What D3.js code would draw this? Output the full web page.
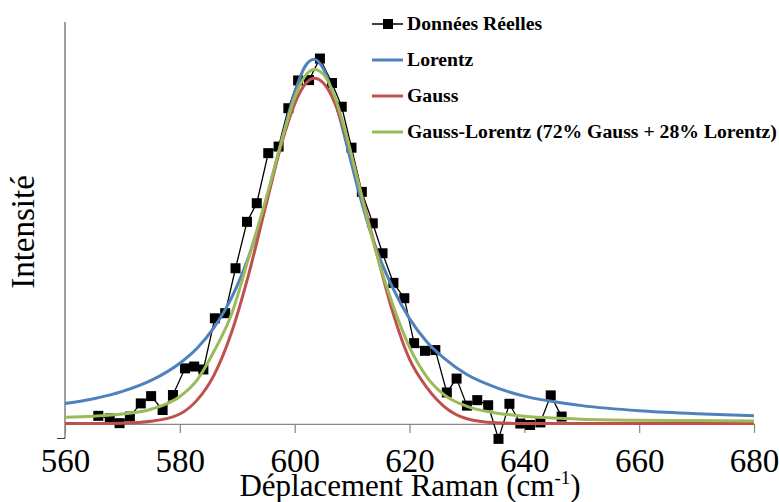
<!DOCTYPE html>
<html>
<head>
<meta charset="utf-8">
<script src="https://cdn.jsdelivr.net/npm/d3@7/dist/d3.min.js"></script>
<style>
  html, body { margin: 0; padding: 0; background: #fff; }
  svg { display: block; }
</style>
</head>
<body>
<svg id="chart" width="779" height="502"></svg>
<script>
// ---- Data ----
const ramanShift = [565.8, 567.8, 569.5, 571.3, 573.2, 575.0, 577.0, 578.8, 580.9, 582.5,
  584.1, 586.1, 587.9, 589.7, 591.7, 593.4, 595.4, 597.2, 598.9, 600.6,
  602.5, 604.4, 606.5, 608.2, 609.9, 611.7, 613.6, 615.3, 617.2, 619.1,
  620.8, 622.7, 624.5, 626.5, 628.2, 630.0, 631.8, 633.7, 635.5, 637.4,
  639.3, 641.0, 642.8, 644.6, 646.5];
const measured = [0.022, 0.015, 0.002, 0.020, 0.056, 0.076, 0.038, 0.079, 0.152, 0.157,
  0.149, 0.289, 0.303, 0.426, 0.553, 0.604, 0.741, 0.759, 0.864, 0.940,
  0.941, 1.000, 0.933, 0.868, 0.756, 0.635, 0.549, 0.467, 0.386, 0.344,
  0.221, 0.200, 0.202, 0.086, 0.124, 0.050, 0.065, 0.051, -0.041, 0.055,
  0.001, -0.003, 0.004, 0.078, 0.020];

const fitShift = [560, 565, 570, 575, 580, 583, 586, 589, 592, 595, 598, 600, 602, 603.4,
  605, 607, 609, 611, 614, 617, 620, 623, 626, 630, 635, 640, 645, 650, 660, 670, 680];
const lorentz = [0.056, 0.069, 0.089, 0.119, 0.166, 0.207, 0.265, 0.345, 0.458, 0.610,
  0.792, 0.907, 0.983, 0.998, 0.972, 0.886, 0.768, 0.645, 0.488, 0.375, 0.288, 0.225,
  0.180, 0.135, 0.100, 0.076, 0.061, 0.050, 0.036, 0.028, 0.022];
const gauss = [0.001, 0.001, 0.002, 0.007, 0.027, 0.065, 0.135, 0.250, 0.410, 0.599,
  0.782, 0.876, 0.933, 0.946, 0.933, 0.878, 0.785, 0.668, 0.485, 0.310, 0.177, 0.100,
  0.048, 0.014, 0.003, 0.001, 0.001, 0.001, 0.001, 0.001, 0.001];
const gaussLorentz = [0.018, 0.021, 0.027, 0.040, 0.075, 0.120, 0.200, 0.300, 0.455, 0.615,
  0.790, 0.893, 0.956, 0.970, 0.957, 0.895, 0.790, 0.665, 0.480, 0.330, 0.210, 0.129,
  0.080, 0.048, 0.030, 0.021, 0.016, 0.013, 0.010, 0.009, 0.008];

const xTicks = [560, 580, 600, 620, 640, 660, 680];
const seriesNames = ["Données Réelles", "Lorentz", "Gauss", "Gauss-Lorentz (72% Gauss + 28% Lorentz)"];
const seriesColors = ["#000000", "#4F81BD", "#C0504D", "#9BBB59"];

// ---- Drawing ----
const svg = d3.select("#chart");
svg.append("rect").attr("width", 779).attr("height", 502).attr("fill", "#fff");

const x = d3.scaleLinear().domain([560, 680]).range([65, 754]);
const y = d3.scaleLinear().domain([-0.04, 1.1]).range([438.5, 22]);

// y axis (line only)
svg.append("line").attr("x1", 65).attr("x2", 65).attr("y1", y(1.1)).attr("y2", y(-0.04))
  .attr("stroke", "#404040").attr("stroke-width", 1);
svg.append("line").attr("x1", 57).attr("x2", 65).attr("y1", y(-0.04)).attr("y2", y(-0.04))
  .attr("stroke", "#404040").attr("stroke-width", 1);

// x axis at y = 0
const xAxis = svg.append("g")
  .attr("transform", `translate(0,${y(0)})`)
  .call(d3.axisBottom(x).tickValues(xTicks).tickSize(9).tickSizeOuter(0).tickFormat(d3.format("d")));
xAxis.select(".domain").attr("stroke", "#868686").attr("stroke-width", 1.2);
xAxis.selectAll(".tick line").attr("stroke", "#868686").attr("stroke-width", 1.2);
xAxis.selectAll(".tick text")
  .attr("y", 48).attr("dy", 0)
  .attr("fill", "#000")
  .style("font-family", "'Liberation Serif', serif")
  .style("font-size", "33px");

// Measured data
const dataPts = ramanShift.map((v, i) => [v, measured[i]]);
svg.append("path").datum(dataPts)
  .attr("fill", "none").attr("stroke", "#000").attr("stroke-width", 1.3)
  .attr("d", d3.line().x(d => x(d[0])).y(d => y(d[1])));
svg.append("g").selectAll("rect").data(dataPts).join("rect")
  .attr("x", d => x(d[0]) - 5).attr("y", d => y(d[1]) - 5)
  .attr("width", 10).attr("height", 10).attr("fill", "#000");

// Fitted curves
const fitLine = d3.line().x(d => x(d[0])).y(d => y(d[1])).curve(d3.curveMonotoneX);
[lorentz, gauss, gaussLorentz].forEach((vals, k) => {
  svg.append("path").datum(fitShift.map((v, i) => [v, vals[i]]))
    .attr("fill", "none").attr("stroke", seriesColors[k + 1])
    .attr("stroke-width", 3).attr("stroke-linejoin", "round")
    .attr("d", fitLine);
});

// Legend
const legendLineY = [24, 60, 96, 132];
const legendBase = [30, 66, 102, 138];
const lg = svg.append("g");
seriesNames.forEach((name, i) => {
  lg.append("line").attr("x1", 372).attr("x2", 403)
    .attr("y1", legendLineY[i]).attr("y2", legendLineY[i])
    .attr("stroke", seriesColors[i]).attr("stroke-width", i === 0 ? 1.5 : 3);
  if (i === 0) {
    lg.append("rect").attr("x", 383).attr("y", legendLineY[i] - 5)
      .attr("width", 10).attr("height", 10).attr("fill", "#000");
  }
  lg.append("text").attr("x", 407).attr("y", legendBase[i])
    .style("font-family", "'Liberation Serif', serif")
    .style("font-weight", "bold").style("font-size", "19.7px")
    .attr("fill", "#000").text(name);
});

// Axis titles
const xt = svg.append("text").attr("x", 410).attr("y", 496)
  .attr("text-anchor", "middle")
  .style("font-family", "'Liberation Serif', serif").style("font-size", "31px")
  .attr("fill", "#000");
xt.append("tspan").text("Déplacement Raman (cm");
xt.append("tspan").attr("dy", -12).style("font-size", "19px").text("-1");
xt.append("tspan").attr("dy", 12).text(")");

svg.append("text")
  .attr("transform", "translate(34,232) rotate(-90)")
  .attr("text-anchor", "middle")
  .style("font-family", "'Liberation Serif', serif").style("font-size", "33px")
  .attr("fill", "#000").text("Intensité");
</script>
</body>
</html>
